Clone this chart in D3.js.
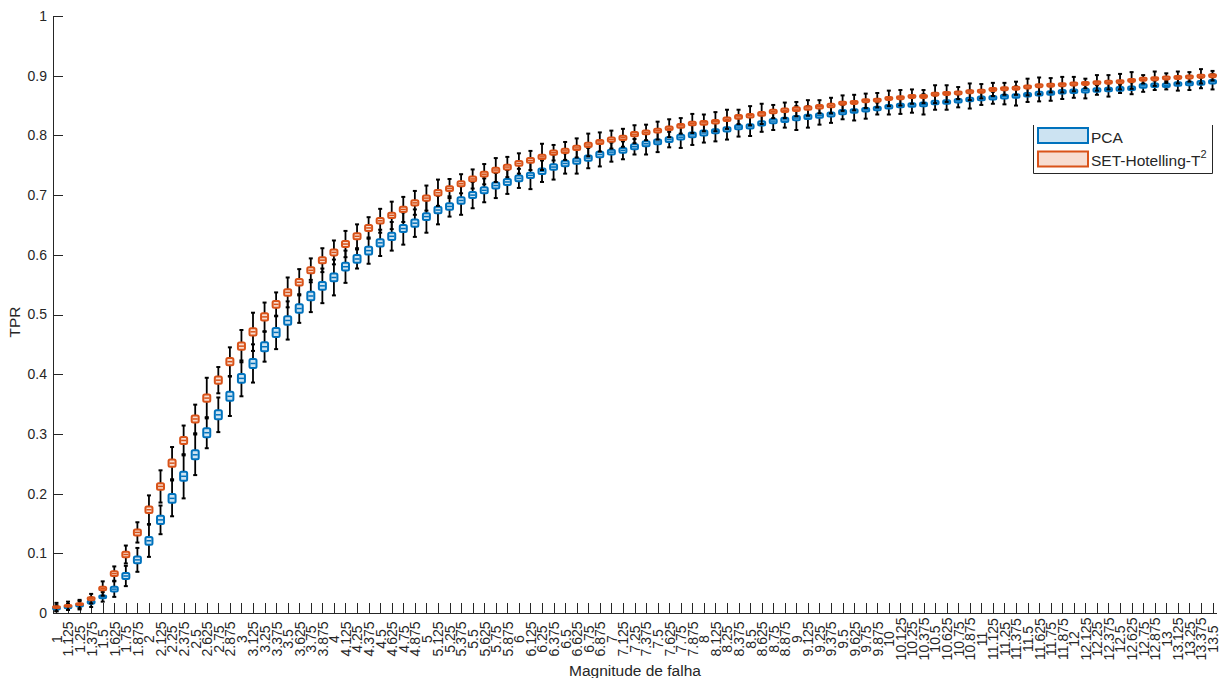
<!DOCTYPE html>
<html>
<head>
<meta charset="utf-8">
<script src="https://cdn.jsdelivr.net/npm/d3@7"></script>
<style>
  body { margin: 0; background: #fff; }
  text { font-family: "Liberation Sans", Arial, Helvetica, sans-serif; fill: #262626; }
</style>
</head>
<body>
<div id="chart-area"></div>
<script>
/*
*    boxplot TPR x magnitude de falha
*/

// categories (magnitude de falha)
var cats = ["1","1.125","1.25","1.375","1.5","1.625","1.75","1.875","2","2.125","2.25","2.375","2.5","2.625","2.75","2.875",
  "3","3.125","3.25","3.375","3.5","3.625","3.75","3.875","4","4.125","4.25","4.375","4.5","4.625","4.75","4.875",
  "5","5.125","5.25","5.375","5.5","5.625","5.75","5.875","6","6.125","6.25","6.375","6.5","6.625","6.75","6.875",
  "7","7.125","7.25","7.375","7.5","7.625","7.75","7.875","8","8.125","8.25","8.375","8.5","8.625","8.75","8.875",
  "9","9.125","9.25","9.375","9.5","9.625","9.75","9.875","10","10.125","10.25","10.375","10.5","10.625","10.75","10.875",
  "11","11.125","11.25","11.375","11.5","11.625","11.75","11.875","12","12.125","12.25","12.375","12.5","12.625","12.75","12.875",
  "13","13.125","13.25","13.375","13.5"];

// medians
var pcaMed = [0.008,0.010,0.013,0.018,0.027,0.040,0.062,0.089,0.121,0.156,0.192,0.229,0.265,0.302,0.332,0.363,
  0.393,0.418,0.446,0.470,0.490,0.510,0.531,0.548,0.562,0.580,0.593,0.607,0.620,0.631,0.644,0.653,
  0.664,0.675,0.681,0.691,0.700,0.708,0.716,0.722,0.728,0.733,0.740,0.747,0.753,0.757,0.762,0.768,
  0.772,0.775,0.781,0.786,0.789,0.793,0.797,0.801,0.804,0.807,0.810,0.814,0.815,0.820,0.824,0.826,
  0.829,0.831,0.833,0.835,0.839,0.841,0.843,0.845,0.848,0.850,0.851,0.852,0.855,0.856,0.858,0.860,
  0.862,0.863,0.865,0.866,0.868,0.870,0.871,0.873,0.874,0.875,0.876,0.877,0.878,0.879,0.883,0.884,
  0.884,0.886,0.887,0.888,0.890];

var setMed = [0.010,0.012,0.015,0.024,0.041,0.066,0.098,0.135,0.173,0.212,0.251,0.289,0.325,0.360,0.390,0.421,
  0.447,0.471,0.496,0.517,0.537,0.554,0.574,0.591,0.604,0.618,0.631,0.645,0.657,0.666,0.676,0.687,
  0.695,0.704,0.711,0.719,0.727,0.735,0.742,0.747,0.753,0.758,0.764,0.771,0.774,0.779,0.784,0.789,
  0.793,0.796,0.802,0.805,0.808,0.812,0.816,0.820,0.821,0.823,0.827,0.831,0.833,0.836,0.840,0.842,
  0.844,0.846,0.848,0.850,0.854,0.855,0.858,0.859,0.862,0.863,0.865,0.865,0.869,0.870,0.871,0.873,
  0.874,0.877,0.878,0.879,0.881,0.883,0.884,0.885,0.886,0.887,0.888,0.889,0.890,0.892,0.894,0.895,
  0.896,0.897,0.898,0.899,0.900];

// box heights (q3 - q1)
var pcaIqr = [0.004,0.004,0.004,0.005,0.005,0.008,0.010,0.011,0.013,0.014,0.015,0.015,0.015,0.015,0.015,0.015,
  0.015,0.015,0.015,0.015,0.014,0.014,0.014,0.013,0.013,0.013,0.013,0.013,0.012,0.012,0.012,0.012,
  0.011,0.011,0.011,0.011,0.010,0.010,0.010,0.010,0.010,0.009,0.009,0.009,0.009,0.009,0.009,0.009,
  0.008,0.008,0.008,0.008,0.008,0.008,0.008,0.008,0.008,0.007,0.007,0.007,0.007,0.007,0.007,0.007,
  0.007,0.007,0.007,0.007,0.007,0.006,0.006,0.006,0.006,0.006,0.006,0.006,0.006,0.006,0.006,0.006,
  0.006,0.006,0.006,0.006,0.006,0.006,0.006,0.006,0.006,0.006,0.006,0.006,0.006,0.006,0.006,0.006,
  0.006,0.006,0.006,0.006,0.006];

var setIqr = [0.003,0.003,0.003,0.005,0.006,0.008,0.009,0.010,0.011,0.011,0.012,0.012,0.012,0.012,0.012,0.012,
  0.012,0.012,0.012,0.011,0.011,0.011,0.010,0.010,0.010,0.010,0.010,0.010,0.009,0.009,0.009,0.009,
  0.009,0.009,0.008,0.008,0.008,0.008,0.008,0.008,0.008,0.008,0.007,0.007,0.007,0.007,0.007,0.007,
  0.007,0.007,0.007,0.006,0.006,0.006,0.006,0.006,0.006,0.006,0.006,0.006,0.006,0.006,0.006,0.006,
  0.006,0.006,0.006,0.006,0.005,0.005,0.005,0.005,0.005,0.005,0.005,0.005,0.005,0.005,0.005,0.005,
  0.005,0.005,0.005,0.005,0.005,0.005,0.005,0.005,0.005,0.005,0.005,0.005,0.005,0.005,0.005,0.005,
  0.005,0.005,0.005,0.005,0.005];

// whisker length from median
var pcaWhisk = [0.005,0.005,0.007,0.008,0.008,0.013,0.017,0.020,0.027,0.024,0.030,0.037,0.034,0.026,0.029,0.033,
  0.030,0.032,0.025,0.028,0.032,0.024,0.027,0.029,0.030,0.027,0.016,0.022,0.022,0.024,0.027,0.023,
  0.027,0.024,0.017,0.024,0.022,0.020,0.021,0.020,0.016,0.023,0.018,0.021,0.017,0.021,0.017,0.020,
  0.016,0.015,0.013,0.018,0.017,0.013,0.018,0.017,0.016,0.017,0.017,0.016,0.016,0.014,0.015,0.013,
  0.020,0.018,0.015,0.014,0.012,0.016,0.015,0.010,0.013,0.014,0.013,0.017,0.012,0.013,0.011,0.015,
  0.011,0.010,0.013,0.016,0.012,0.013,0.013,0.012,0.011,0.013,0.008,0.012,0.007,0.010,0.010,0.008,
  0.007,0.011,0.011,0.009,0.013];

var setWhisk = [0.007,0.007,0.007,0.008,0.012,0.012,0.015,0.017,0.024,0.027,0.027,0.025,0.024,0.034,0.022,0.024,
  0.027,0.032,0.024,0.020,0.025,0.022,0.020,0.020,0.020,0.022,0.020,0.018,0.020,0.023,0.021,0.020,
  0.021,0.022,0.016,0.016,0.016,0.017,0.020,0.017,0.017,0.016,0.022,0.013,0.015,0.016,0.019,0.016,
  0.015,0.015,0.015,0.013,0.015,0.015,0.013,0.016,0.014,0.016,0.016,0.012,0.016,0.017,0.011,0.013,
  0.012,0.013,0.011,0.013,0.013,0.013,0.012,0.012,0.013,0.013,0.012,0.011,0.015,0.014,0.010,0.014,
  0.012,0.011,0.010,0.011,0.014,0.014,0.012,0.013,0.012,0.008,0.013,0.012,0.013,0.014,0.007,0.012,
  0.008,0.010,0.008,0.012,0.008];

var yTicks = [0,0.1,0.2,0.3,0.4,0.5,0.6,0.7,0.8,0.9,1];

var series = [
  { name: "PCA", color: "#0072BD", fill: "#cce3f2", med: pcaMed, iqr: pcaIqr, wh: pcaWhisk },
  { name: "SET-Hotelling-T", color: "#D95319", fill: "#f7ddd1", med: setMed, iqr: setIqr, wh: setWhisk }
];

var W = 1219, H = 678;

var svg = d3.select("#chart-area").append("svg")
    .attr("width", W)
    .attr("height", H);

// Scales
var x = d3.scalePoint().domain(cats).range([53, 1216]).padding(0.3);
var y = d3.scaleLinear().domain([0, 1]).range([613, 16]);

// Axes
var yAxis = svg.append("g")
    .attr("transform", "translate(53,0)")
    .call(d3.axisLeft(y).tickValues(yTicks).tickFormat(d3.format("")).tickSizeInner(-10).tickSizeOuter(0).tickPadding(6));

var xAxis = svg.append("g")
    .attr("transform", "translate(0,613)")
    .call(d3.axisBottom(x).tickSizeInner(-10).tickSizeOuter(0));

svg.selectAll(".domain, .tick line")
    .attr("stroke", "#262626")
    .attr("shape-rendering", "crispEdges");

yAxis.selectAll("text")
    .attr("font-size", "14px")
    .attr("fill", "#262626");

xAxis.selectAll("text")
    .attr("font-size", "14px")
    .attr("fill", "#262626")
    .attr("x", 0)
    .attr("y", 0)
    .attr("dy", "0.35em")
    .attr("text-anchor", "middle")
    .attr("transform", "translate(0,26) rotate(-90)");

// Axis titles
svg.append("text")
    .attr("x", 635)
    .attr("y", 676)
    .attr("text-anchor", "middle")
    .attr("font-size", "15.5px")
    .text("Magnitude de falha");

svg.append("text")
    .attr("transform", "translate(20,322) rotate(-90)")
    .attr("text-anchor", "middle")
    .attr("font-size", "15.5px")
    .text("TPR");

// Boxes
var boxW = 7, capW = 4;

series.forEach(function(s) {
    var rows = cats.map(function(c, i) {
        return {
            cat: c,
            med: s.med[i],
            q1: s.med[i] - s.iqr[i] / 2,
            q3: s.med[i] + s.iqr[i] / 2,
            lo: Math.max(0, s.med[i] - s.wh[i]),
            hi: s.med[i] + s.wh[i]
        };
    });

    var g = svg.append("g").attr("class", "box-" + s.name);

    var b = g.selectAll(".box")
        .data(rows)
        .enter()
        .append("g")
        .attr("class", "box")
        .attr("transform", function(d) { return "translate(" + x(d.cat) + ",0)"; });

    // whiskers
    b.append("line")
        .attr("y1", function(d) { return y(d.hi); })
        .attr("y2", function(d) { return y(d.lo); })
        .attr("stroke", "#000")
        .attr("stroke-width", 1.8);

    b.append("line")
        .attr("x1", -capW / 2).attr("x2", capW / 2)
        .attr("y1", function(d) { return y(d.hi); })
        .attr("y2", function(d) { return y(d.hi); })
        .attr("stroke", "#000")
        .attr("stroke-width", 2);

    b.append("line")
        .attr("x1", -capW / 2).attr("x2", capW / 2)
        .attr("y1", function(d) { return y(d.lo); })
        .attr("y2", function(d) { return y(d.lo); })
        .attr("stroke", "#000")
        .attr("stroke-width", 2);

    // box
    b.append("rect")
        .attr("x", -boxW / 2)
        .attr("width", boxW)
        .attr("y", function(d) { return y(d.q3); })
        .attr("height", function(d) { return y(d.q1) - y(d.q3); })
        .attr("rx", 1.5)
        .attr("fill", s.fill)
        .attr("stroke", s.color)
        .attr("stroke-width", 2);

    // median
    b.append("line")
        .attr("x1", -boxW / 2 + 1).attr("x2", boxW / 2 - 1)
        .attr("y1", function(d) { return y(d.med); })
        .attr("y2", function(d) { return y(d.med); })
        .attr("stroke", s.color)
        .attr("stroke-width", 1.5);
});

// Legend
var legend = svg.append("g");

legend.append("path")
    .attr("d", "M1033.5,125 V173.5 H1212.5 V125")
    .attr("fill", "none")
    .attr("stroke", "#262626");

var legendRow = legend.selectAll(".legend-row")
    .data(series)
    .enter()
    .append("g")
    .attr("class", "legend-row")
    .attr("transform", function(d, i) { return "translate(0," + i * 23.5 + ")"; });

legendRow.append("rect")
    .attr("x", 1038)
    .attr("y", 128)
    .attr("width", 50)
    .attr("height", 15)
    .attr("fill", function(d) { return d.fill; })
    .attr("stroke", function(d) { return d.color; })
    .attr("stroke-width", 2);

var lt = legendRow.append("text")
    .attr("x", 1091)
    .attr("y", 142.5)
    .attr("font-size", "15.5px")
    .attr("fill", "#000")
    .text(function(d) { return d.name; });

lt.filter(function(d, i) { return i === 1; })
    .append("tspan")
    .attr("dy", -8)
    .attr("font-size", "11px")
    .text("2");
</script>
</body>
</html>
